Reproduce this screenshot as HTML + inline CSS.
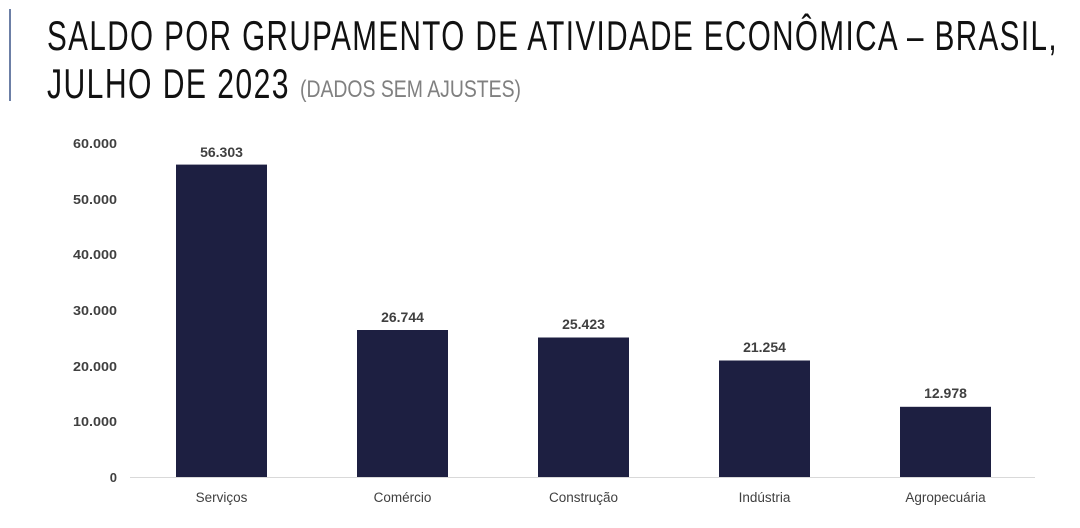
<!DOCTYPE html>
<html><head><meta charset="utf-8"><style>
html,body{margin:0;padding:0;background:#fff;}
svg{display:block;}
</style></head><body>
<svg width="1080" height="528" xmlns="http://www.w3.org/2000/svg" font-family="Liberation Sans, DejaVu Sans, sans-serif">
<rect width="1080" height="528" fill="#fff"/>
<rect x="9" y="9" width="2" height="92" fill="#6c7fa6"/>
<text x="47" y="50" font-size="42" fill="#111" letter-spacing="2" textLength="1011" lengthAdjust="spacingAndGlyphs">SALDO POR GRUPAMENTO DE ATIVIDADE ECONÔMICA – BRASIL,</text>
<text x="47" y="98" font-size="42" fill="#111" letter-spacing="2" textLength="243" lengthAdjust="spacingAndGlyphs">JULHO DE 2023</text>
<text x="300" y="97" font-size="24" fill="#808080" textLength="221" lengthAdjust="spacingAndGlyphs">(DADOS SEM AJUSTES)</text>
<g font-size="13" font-weight="bold" fill="#404040" text-anchor="end">
<text x="117" y="148" textLength="44" lengthAdjust="spacingAndGlyphs">60.000</text>
<text x="117" y="204" textLength="44" lengthAdjust="spacingAndGlyphs">50.000</text>
<text x="117" y="259" textLength="44" lengthAdjust="spacingAndGlyphs">40.000</text>
<text x="117" y="315" textLength="44" lengthAdjust="spacingAndGlyphs">30.000</text>
<text x="117" y="371" textLength="44" lengthAdjust="spacingAndGlyphs">20.000</text>
<text x="117" y="426" textLength="44" lengthAdjust="spacingAndGlyphs">10.000</text>
<text x="117" y="482">0</text>
</g>
<line x1="130" y1="477.5" x2="1035" y2="477.5" stroke="#d9d9d9" stroke-width="1"/>
<g fill="#1d1f41">
<rect x="176" y="164.6" width="91" height="312.4"/>
<rect x="357" y="330" width="91" height="147"/>
<rect x="538" y="337.5" width="91" height="139.5"/>
<rect x="719" y="360.5" width="91" height="116.5"/>
<rect x="900" y="406.8" width="91" height="70.2"/>
</g>
<g font-size="14" font-weight="bold" fill="#404040" text-anchor="middle">
<text x="221.5" y="157">56.303</text>
<text x="402.5" y="322">26.744</text>
<text x="583.5" y="329">25.423</text>
<text x="764.5" y="352">21.254</text>
<text x="945.5" y="398">12.978</text>
</g>
<g font-size="13.5" fill="#404040" text-anchor="middle">
<text x="221.5" y="502">Serviços</text>
<text x="402.5" y="502">Comércio</text>
<text x="583.5" y="502">Construção</text>
<text x="764.5" y="502">Indústria</text>
<text x="945.5" y="502">Agropecuária</text>
</g>
</svg>
</body></html>
